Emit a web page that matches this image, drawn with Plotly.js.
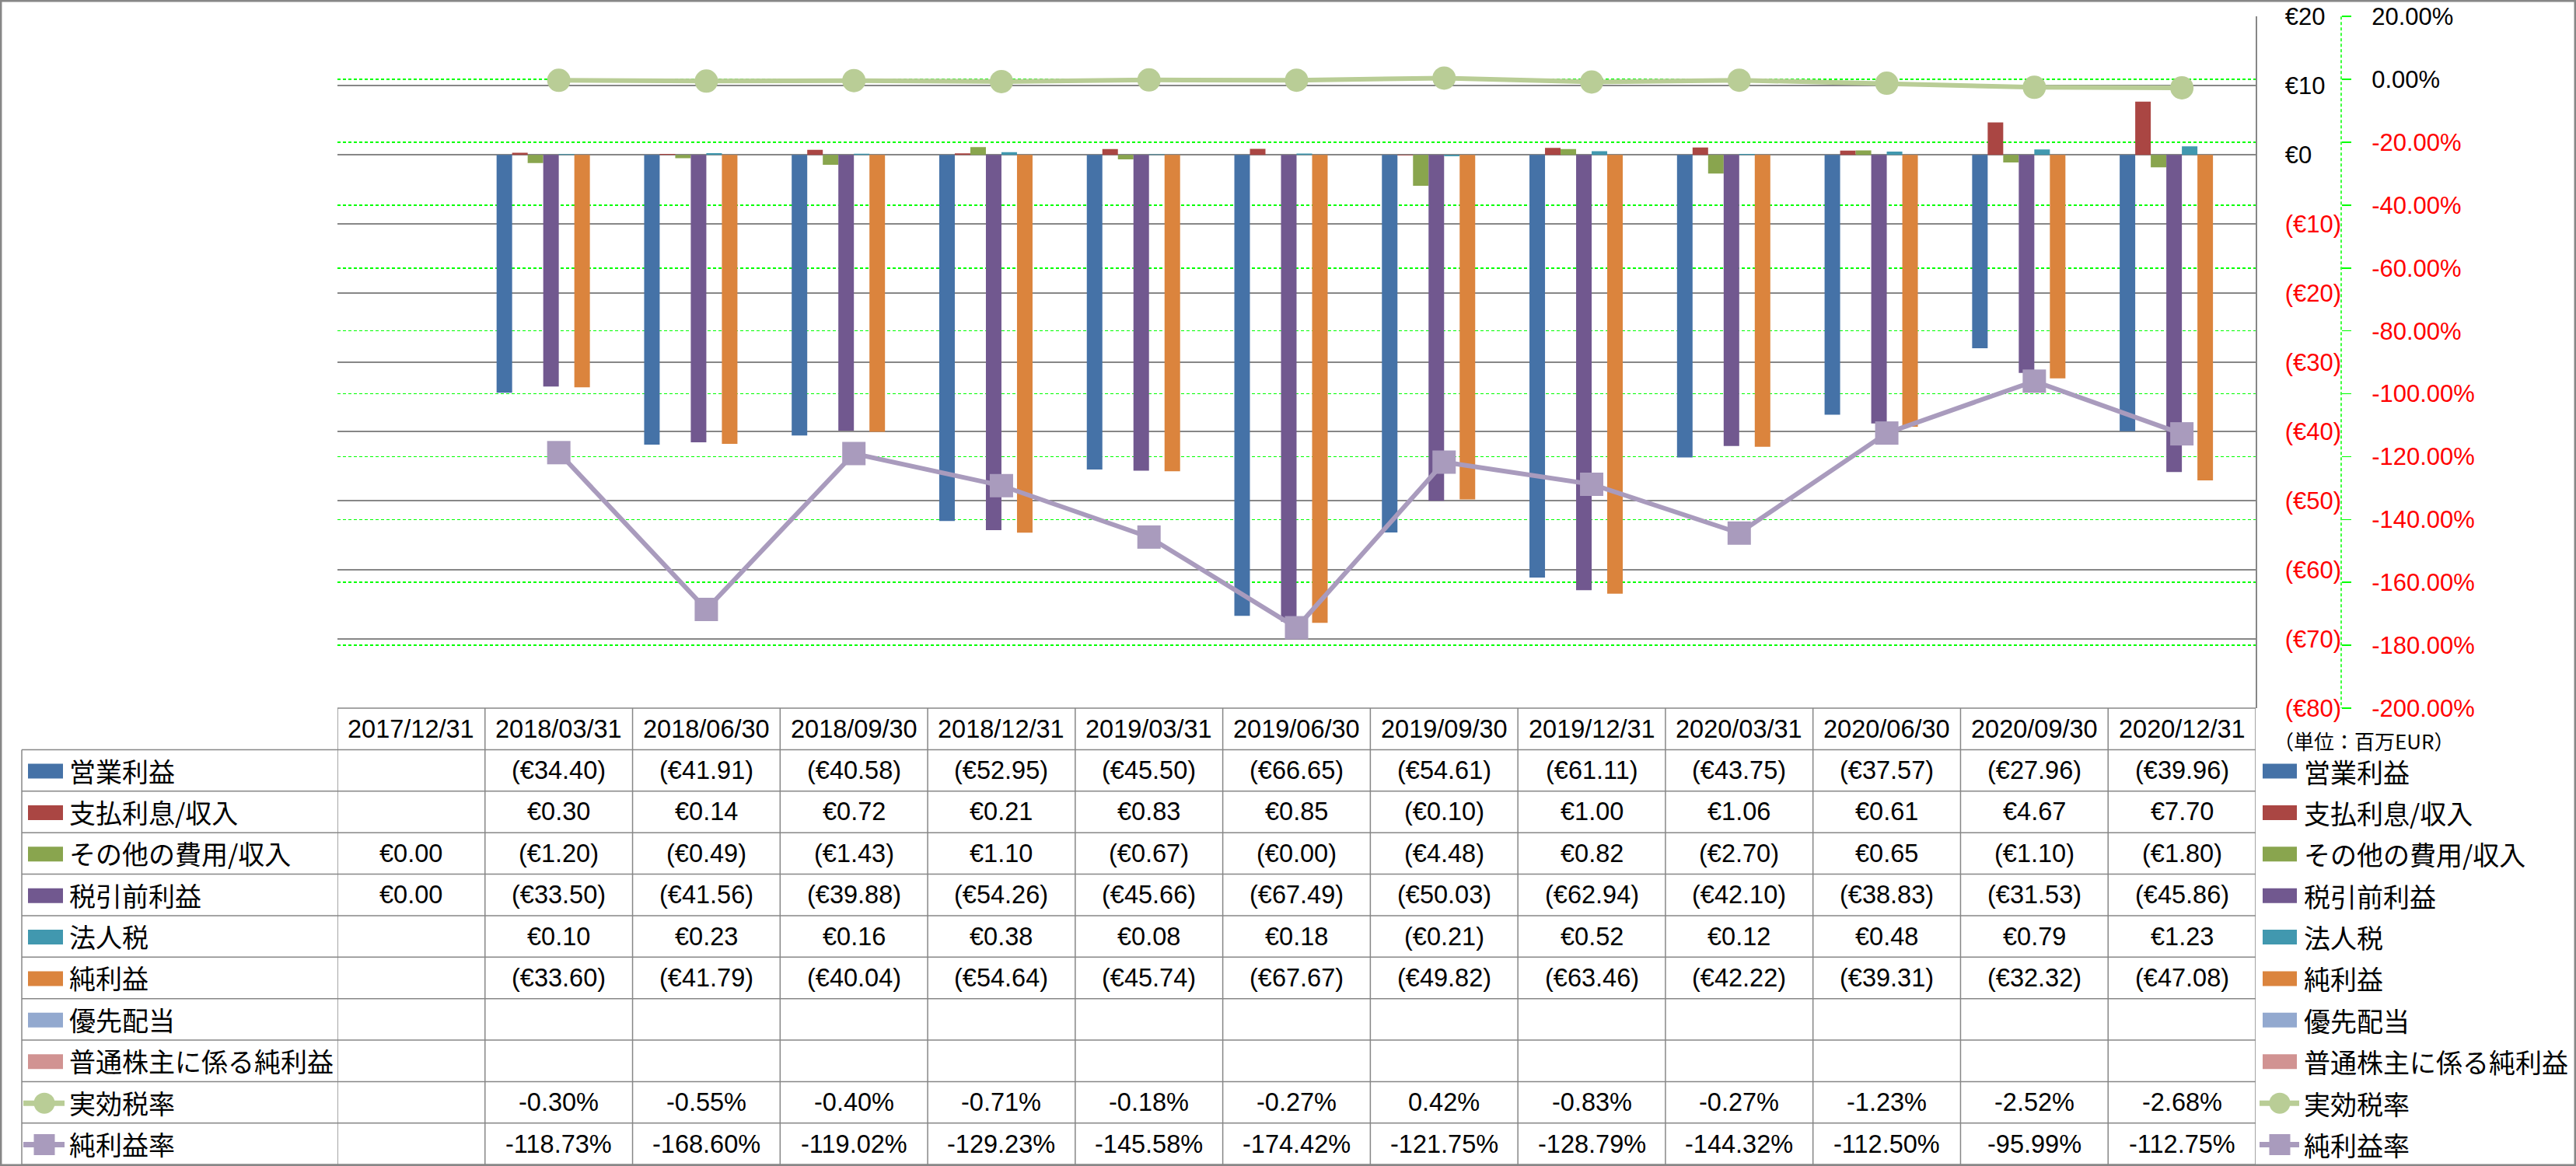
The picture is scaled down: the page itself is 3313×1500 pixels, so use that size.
<!DOCTYPE html>
<html>
<head>
<meta charset="utf-8">
<script src="https://cdn.plot.ly/plotly-3.0.1.min.js"></script>
<style>html,body{margin:0;padding:0;background:#fff;}#chart{width:3313px;height:1500px;}</style>
</head>
<body>
<div id="chart"></div>
<script>
// ---------------- DATA ----------------
const categories = ['2017/12/31','2018/03/31','2018/06/30','2018/09/30','2018/12/31','2019/03/31','2019/06/30','2019/09/30','2019/12/31','2020/03/31','2020/06/30','2020/09/30','2020/12/31'];
const operatingIncome = [null,-34.40,-41.91,-40.58,-52.95,-45.50,-66.65,-54.61,-61.11,-43.75,-37.57,-27.96,-39.96];
const interestIncome  = [null,0.30,0.14,0.72,0.21,0.83,0.85,-0.10,1.00,1.06,0.61,4.67,7.70];
const otherIncome     = [0.00,-1.20,-0.49,-1.43,1.10,-0.67,-0.001,-4.48,0.82,-2.70,0.65,-1.10,-1.80];
const pretaxIncome    = [0.00,-33.50,-41.56,-39.88,-54.26,-45.66,-67.49,-50.03,-62.94,-42.10,-38.83,-31.53,-45.86];
const incomeTax       = [null,0.10,0.23,0.16,0.38,0.08,0.18,-0.21,0.52,0.12,0.48,0.79,1.23];
const netIncome       = [null,-33.60,-41.79,-40.04,-54.64,-45.74,-67.67,-49.82,-63.46,-42.22,-39.31,-32.32,-47.08];
const preferredDiv    = [null,null,null,null,null,null,null,null,null,null,null,null,null];
const netIncomeCommon = [null,null,null,null,null,null,null,null,null,null,null,null,null];
const effectiveTaxRate= [null,-0.30,-0.55,-0.40,-0.71,-0.18,-0.27,0.42,-0.83,-0.27,-1.23,-2.52,-2.68];
const netMargin       = [null,-118.73,-168.60,-119.02,-129.23,-145.58,-174.42,-121.75,-128.79,-144.32,-112.50,-95.99,-112.75];

const seriesNames = ['営業利益','支払利息/収入','その他の費用/収入','税引前利益','法人税','純利益','優先配当','普通株主に係る純利益','実効税率','純利益率'];
const seriesColors = ['#4572A7','#AA4643','#89A54E','#71588F','#4198AF','#DB843D','#93A9CF','#D19392','#B9CD96','#A99BBD'];

const eurTickValues = [20,10,0,-10,-20,-30,-40,-50,-60,-70,-80];
const eurTickLabels = ['€20','€10','€0','(€10)','(€20)','(€30)','(€40)','(€50)','(€60)','(€70)','(€80)'];
const pctTickValues = [20,0,-20,-40,-60,-80,-100,-120,-140,-160,-180,-200];
const pctTickLabels = ['20.00%','0.00%','-20.00%','-40.00%','-60.00%','-80.00%','-100.00%','-120.00%','-140.00%','-160.00%','-180.00%','-200.00%'];
const unitLabel = '（単位：百万EUR）';

// ---------------- HELPERS ----------------
const W = 3313, H = 1500;
const px = v => v / W;
const py = v => 1 - v / H;
const red = s => (s.startsWith('(') || s.startsWith('-')) ? '<span style="color:#FF0000">' + s + '</span>' : s;
const fmtEur = v => v == null ? '' : (v < 0 ? '(€' + Math.abs(v).toFixed(2) + ')' : '€' + v.toFixed(2));
const fmtPct = v => v == null ? '' : v.toFixed(2) + '%';

const barSeries = [operatingIncome, interestIncome, otherIncome, pretaxIncome, incomeTax, netIncome, preferredDiv, netIncomeCommon];
const lineSeries = [effectiveTaxRate, netMargin];

// ---------------- TRACES ----------------
const traces = [];
barSeries.forEach((ys, i) => {
  traces.push({type:'bar', x:categories, y:ys, name:seriesNames[i], marker:{color:seriesColors[i]}, xaxis:'x', yaxis:'y', hoverinfo:'skip'});
});
traces.push({type:'scatter', mode:'lines+markers', x:categories, y:effectiveTaxRate, name:seriesNames[8], xaxis:'x', yaxis:'y2',
  line:{color:seriesColors[8], width:6}, marker:{color:seriesColors[8], size:30, symbol:'circle'}, hoverinfo:'skip'});
traces.push({type:'scatter', mode:'lines+markers', x:categories, y:netMargin, name:seriesNames[9], xaxis:'x', yaxis:'y2',
  line:{color:seriesColors[9], width:6}, marker:{color:seriesColors[9], size:30, symbol:'square'}, hoverinfo:'skip'});

// ---------------- TABLE GEOMETRY ----------------
const plotLeft = 434, plotRight = 2901, plotTop = 21.2, plotBottom = 911;
const tableLeft = 28, tableTop = 911, tableBottom = 1498.2;
const nRows = 11;
const rowH = (tableBottom - tableTop) / nRows;
const rowTop = i => tableTop + i * rowH;
const rowMid = i => tableTop + (i + 0.5) * rowH;
const gray = '#878787';

const shapes = [];
// outer border
shapes.push({type:'rect', xref:'paper', yref:'paper', x0:px(1.2), x1:px(W-1.2), y0:py(1.2), y1:py(H-1.2), line:{color:gray, width:2.5}, layer:'above'});
// secondary axis dashed line
shapes.push({type:'line', xref:'paper', yref:'paper', x0:px(3011), x1:px(3011), y0:py(plotTop), y1:py(plotBottom), line:{color:'#00FF00', width:1.5, dash:'4px,3px'}});
// table horizontal lines
shapes.push({type:'line', xref:'paper', yref:'paper', x0:px(plotLeft), x1:px(plotRight), y0:py(rowTop(0)), y1:py(rowTop(0)), line:{color:gray, width:1.5}});
for (let i = 1; i <= nRows; i++) {
  shapes.push({type:'line', xref:'paper', yref:'paper', x0:px(tableLeft), x1:px(plotRight), y0:py(rowTop(i)), y1:py(rowTop(i)), line:{color:gray, width:1.5}});
}
// table vertical lines
shapes.push({type:'line', xref:'paper', yref:'paper', x0:px(tableLeft), x1:px(tableLeft), y0:py(rowTop(1)), y1:py(rowTop(nRows)), line:{color:gray, width:1.5}});
for (let k = 0; k <= categories.length; k++) {
  shapes.push({type:'line', xref:'x', yref:'paper', x0:k - 0.5, x1:k - 0.5, y0:py(rowTop(0)), y1:py(rowTop(nRows)), line:{color:gray, width:1.5}});
}

// legend symbols (left inside table, right beside it)
function addSymbol(i, xl, xr, lineL, lineR, mx) {
  const yc = rowMid(i + 1) + 1;
  if (i < 8) {
    shapes.push({type:'rect', xref:'paper', yref:'paper', x0:px(xl), x1:px(xr), y0:py(yc - 9.5), y1:py(yc + 9.5), fillcolor:seriesColors[i], line:{width:0}});
  } else {
    shapes.push({type:'line', xref:'paper', yref:'paper', x0:px(lineL), x1:px(lineR), y0:py(yc), y1:py(yc), line:{color:seriesColors[i], width:7}});
    const r = 13.5;
    shapes.push({type: i === 8 ? 'circle' : 'rect', xref:'paper', yref:'paper', x0:px(mx - r), x1:px(mx + r), y0:py(yc - r), y1:py(yc + r), fillcolor:seriesColors[i], line:{width:0}});
  }
}
for (let i = 0; i < 10; i++) {
  addSymbol(i, 36, 81, 30, 83, 57);
  addSymbol(i, 2910, 2954, 2906, 2957, 2932);
}

// ---------------- ANNOTATIONS ----------------
const annotations = [];
const numFont = {family:'Liberation Sans, Arial, sans-serif', size:32.5, color:'#000'};
const jpFont = {family:'Noto Sans CJK JP, sans-serif', size:34, color:'#000'};
categories.forEach(c => {
  annotations.push({xref:'x', yref:'paper', x:c, y:py(rowMid(0)), text:c, showarrow:false, xanchor:'center', yanchor:'middle', font:numFont});
});
const tableRows = [
  [operatingIncome, fmtEur], [interestIncome, fmtEur], [otherIncome, fmtEur], [pretaxIncome, fmtEur],
  [incomeTax, fmtEur], [netIncome, fmtEur], [preferredDiv, fmtEur], [netIncomeCommon, fmtEur],
  [effectiveTaxRate, fmtPct], [netMargin, fmtPct]
];
tableRows.forEach((row, r) => {
  const vals = row[0], f = row[1];
  vals.forEach((v, j) => {
    if (v == null) return;
    annotations.push({xref:'x', yref:'paper', x:categories[j], y:py(rowMid(r + 1)), text:f(v), showarrow:false, xanchor:'center', yanchor:'middle', font:numFont});
  });
  annotations.push({xref:'paper', yref:'paper', x:px(87), y:py(rowMid(r + 1)), text:seriesNames[r], showarrow:false, xanchor:'left', yanchor:'middle', font:jpFont});
  annotations.push({xref:'paper', yref:'paper', x:px(2961), y:py(rowMid(r + 1) + 1), text:seriesNames[r], showarrow:false, xanchor:'left', yanchor:'middle', font:jpFont});
});
annotations.push({xref:'paper', yref:'paper', x:px(2922), y:py(952), text:unitLabel, showarrow:false, xanchor:'left', yanchor:'middle', font:{family:'Noto Sans CJK JP, sans-serif', size:26, color:'#000'}});

// ---------------- LAYOUT ----------------
const tickFont = {family:'Liberation Sans, Arial, sans-serif', size:31, color:'#000'};
const layout = {
  width: W, height: H,
  margin: {l:0, r:0, t:0, b:0, pad:0},
  paper_bgcolor:'#fff', plot_bgcolor:'rgba(0,0,0,0)',
  showlegend:false,
  barmode:'group', bargap:0.157, bargroupgap:0,
  xaxis: {type:'category', domain:[px(plotLeft), px(plotRight)], range:[-0.5, categories.length - 0.5],
    showticklabels:false, showgrid:false, zeroline:false, showline:false, ticks:''},
  yaxis: {domain:[py(plotBottom), py(plotTop)], range:[-80, 20], side:'right', anchor:'x',
    tickvals:eurTickValues, ticktext:eurTickLabels.map(red), tickfont:tickFont,
    showgrid:true, gridcolor:gray, gridwidth:1.5, zeroline:false,
    showline:true, linecolor:gray, linewidth:1.5, ticks:'', ticklabelstandoff:30},
  yaxis2: {overlaying:'y', domain:[py(plotBottom), py(plotTop)], range:[-200, 20], side:'right', anchor:'free', position:px(3011),
    tickvals:pctTickValues, ticktext:pctTickLabels.map(red), tickfont:tickFont,
    showgrid:true, gridcolor:'#00FF00', gridwidth:1.5, griddash:'4px,3px', zeroline:false,
    showline:false, ticks:'outside', ticklen:12, tickwidth:1.5, tickcolor:'#00FF00', ticklabelstandoff:20},
  shapes: shapes,
  annotations: annotations
};

Plotly.newPlot('chart', traces, layout, {displayModeBar:false, staticPlot:true});
</script>
</body>
</html>
